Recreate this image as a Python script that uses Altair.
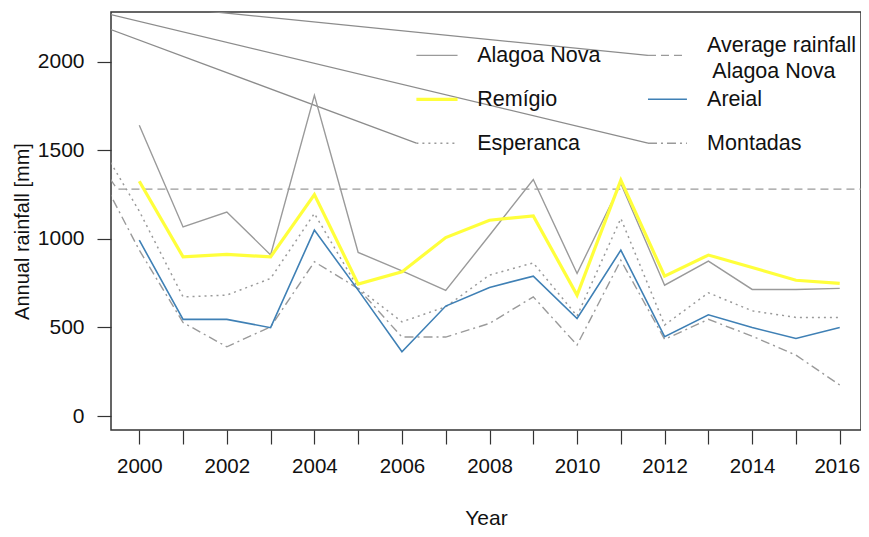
import altair as alt
import pandas as pd

# ---- data ----
years = list(range(1999, 2017))
alagoa_nova = [None, 1642, 1068, 1152, 910, 1811, 924, 820, 709, 1021, 1336, 805, 1313, 739, 875, 715, 715, 721]
remigio = [None, 1326, 899, 913, 899, 1251, 745, 814, 1008, 1106, 1130, 683, 1332, 790, 909, 839, 767, 749]
esperanca = [1577, 1157, 673, 683, 777, 1144, 722, 532, 617, 796, 865, 565, 1116, 514, 696, 594, 557, 557]
areial = [None, 993, 546, 546, 499, 1050, 711, 363, 621, 726, 790, 551, 937, 448, 572, 500, 438, 500]
montadas = [1411, 937, 528, 391, 504, 871, 720, 446, 446, 523, 673, 401, 880, 433, 546, 451, 344, 175]

avg_years = [1999.0, 1999.5, 2017.0]
avg_values = [1456, 1281, 1281]

tick_years = list(range(2000, 2017))
y_ticks = [0, 500, 1000, 1500, 2000]

# stray connector lines (start year/value -> end year/value)
conn_x0 = [1999.0, 1999.0, 1999.0]
conn_y0 = [2350, 2288, 2215]
conn_x1 = [2011.62, 2011.62, 2006.33]
conn_y1 = [2037, 1541, 1541]

GRAY = "#9a9a9a"
YELLOW = "#ffff3b"
BLUE = "#3f80b5"
FONT = "Liberation Sans"

xscale = alt.Scale(domain=[1999.354, 2016.486], nice=False, zero=False)
yscale = alt.Scale(domain=[-79, 2282], nice=False, zero=False)

xaxis = alt.Axis(values=tick_years, format="d",
                 labelExpr="datum.value % 2 == 0 ? datum.label : ''",
                 tickSize=14, tickColor="#333", tickWidth=1.2,
                 labelPadding=12, labelFontSize=20.5, labelColor="#111",
                 labelFlush=False, labelOverlap=False,
                 labelOffset={"condition": {"test": "datum.value == 2016", "value": -3}, "value": 0},
                 domain=False, grid=False,
                 title="Year", titleFontSize=21, titleFontWeight="normal",
                 titleColor="#111", titleY=88, titleBaseline="middle")
yaxis = alt.Axis(values=y_ticks, format="d", tickSize=14, tickColor="#333", tickWidth=1.2,
                 labelPadding=13, labelFontSize=21, labelColor="#111",
                 domain=False, grid=False,
                 title="Annual rainfall [mm]", titleFontSize=20,
                 titleFontWeight="normal", titleColor="#111",
                 titleX=-89, titleY=219, titleAngle=-90,
                 titleAlign="center", titleBaseline="middle")

X = alt.X("year:Q", scale=xscale, axis=xaxis)
Y = alt.Y("value:Q", scale=yscale, axis=yaxis)


def frame(xs, vals):
    return pd.DataFrame([{"year": a, "value": b} for a, b in zip(xs, vals) if b is not None])


def line(xs, vals, color, width, dash=None):
    kw = dict(clip=True, color=color, strokeWidth=width)
    if dash:
        kw["strokeDash"] = dash
    return alt.Chart(frame(xs, vals)).mark_line(**kw).encode(x=X, y=Y)


layers = []
# connectors
for a, b, c, d in zip(conn_x0, conn_y0, conn_x1, conn_y1):
    layers.append(line([a, c], [b, d], "#8c8c8c", 1.3))

layers.append(line(avg_years, avg_values, GRAY, 1.3, [8, 5]))
layers.append(line(years, alagoa_nova, GRAY, 1.4))
layers.append(line(years, esperanca, GRAY, 1.5, [2, 4]))
layers.append(line(years, montadas, GRAY, 1.4, [9, 4, 2, 4]))
layers.append(line(years, areial, BLUE, 1.6))
layers.append(line(years, remigio, YELLOW, 3.2))

# legend keys (data coordinates)
c1 = [2006.33, 2007.27]
c2 = [2011.62, 2012.51]
layers.append(line(c1, [2037, 2037], GRAY, 1.4))
layers.append(line(c1, [1789, 1789], YELLOW, 3.2))
layers.append(line(c1, [1541, 1541], GRAY, 1.5, [2, 4]))
layers.append(line(c2, [2037, 2037], GRAY, 1.3, [8, 5]))
layers.append(line(c2, [1789, 1789], BLUE, 1.6))
layers.append(line(c2, [1541, 1541], GRAY, 1.4, [9, 4, 2, 4]))

legend_labels = ["Alagoa Nova", "Remígio", "Esperanca", "Average rainfall", "Alagoa Nova", "Areial", "Montadas"]
legend_x = [2007.72, 2007.72, 2007.72, 2012.97, 2013.09, 2012.97, 2012.97]
legend_y = [2032, 1784, 1536, 2092, 1944, 1784, 1536]
leg_df = pd.DataFrame({"year": legend_x, "value": legend_y, "label": legend_labels})
layers.append(
    alt.Chart(leg_df).mark_text(align="left", baseline="middle", fontSize=21.5,
                                font=FONT, color="#111")
    .encode(x=X, y=Y, text="label:N")
)

chart = alt.layer(*layers).properties(
    width=750, height=418,
    autosize=alt.AutoSizeParams(type="none"),
    padding={"left": 103, "top": 4, "right": 0, "bottom": 99},
).configure(font=FONT).configure_view(stroke="#333", strokeWidth=1.5)

chart.save("out.html", embed_options={"renderer": "svg", "actions": False})
